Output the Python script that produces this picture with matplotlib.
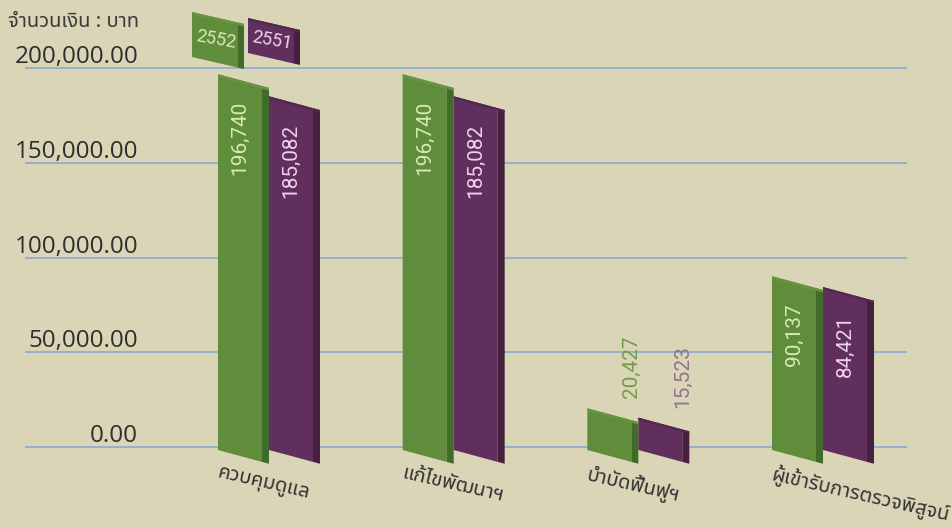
import matplotlib
matplotlib.use("Agg")
import matplotlib.pyplot as plt
from matplotlib import font_manager
from matplotlib.ft2font import FT2Font
from matplotlib.patches import Polygon

# data
categories = ["ควบคุมดูแล", "แก้ไขพัฒนาฯ", "บำบัดฟื้นฟูฯ", "ผู้เข้ารับการตรวจพิสูจน์"]
years = ["2552", "2551"]
values_2552 = [196740, 196740, 20427, 90137]
values_2551 = [185082, 185082, 15523, 84421]
yticks = [0, 50000, 100000, 150000, 200000]
ylabel = "จำนวนเงิน : บาท"

BG = "#dbd5b7"
GREEN = "#5f8d3b"
GREEN_SIDE = "#416b28"
GREEN_TOP = "#679643"
PURPLE = "#612f5e"
PURPLE_SIDE = "#45203f"
PURPLE_TOP = "#55284f"
GRID = "#8eaecf"


def find_thai_font():
    """First installed family that has Thai glyphs."""
    found = []
    for f in font_manager.fontManager.ttflist:
        try:
            if 0x0E08 in FT2Font(f.fname).get_charmap():
                found.append(f.name)
        except Exception:
            pass
    for pref in ["Noto Sans Thai", "Noto Sans Thai UI", "Loma", "Garuda", "Tahoma"]:
        if pref in found:
            return pref
    return found[0] if found else "DejaVu Sans"


THAI = [find_thai_font(), "DejaVu Sans"]

# px geometry helpers (figure is 953x527 at dpi 100)
W, H = 953, 527
PX_X = 184.67            # pixels per category step
PX_Y = 379 / 200000      # pixels per baht
front_w = 44 / PX_X
side_w = 7 / PX_X
slope = 0.27             # perspective drop, px per px
skew_front = 44 * slope / PX_Y
skew_side = 7 * slope / PX_Y
base = -3 / PX_Y
top_band = 2.5 / PX_Y


def box3d(ax, x0, y_bot, y_top, w, d, sk, skd, band, face, side, top, z=3):
    x1 = x0 + w
    ax.add_patch(Polygon([(x0, y_bot), (x1, y_bot - sk), (x1, y_top - sk), (x0, y_top)],
                         closed=True, fc=face, ec="none", zorder=z))
    ax.add_patch(Polygon([(x1, y_bot - sk), (x1 + d, y_bot - sk - skd),
                          (x1 + d, y_top - sk - skd), (x1, y_top - sk)],
                         closed=True, fc=side, ec="none", zorder=z))
    ax.add_patch(Polygon([(x0, y_top), (x1 + d, y_top - sk - skd),
                          (x1 + d, y_top - sk - skd - band), (x0, y_top - band)],
                         closed=True, fc=top, ec="none", zorder=z + 0.1))


fig = plt.figure(figsize=(W / 100, H / 100), dpi=100)
fig.patch.set_facecolor(BG)

ax = fig.add_axes([25 / W, 0, 882 / W, 1])
ax.set_facecolor("none")
xmin = -(269 - 25) / PX_X
ax.set_xlim(xmin, xmin + 882 / PX_X)
ax.set_ylim(-(527 - 447) / PX_Y, 447 / PX_Y)
ax.set_axis_off()

for t in yticks:
    ax.axhline(t, color=GRID, lw=1.3, zorder=1)
    ax.annotate(f"{t:,.2f}", xy=(138 - 25, t), xycoords=("axes pixels", "data"),
                xytext=(0, 5), textcoords="offset pixels",
                ha="right", va="baseline", fontsize=17.5,
                family=["Open Sans", "DejaVu Sans"], color="#2e2e2e")

label_font = ["Roboto", "Liberation Sans", "DejaVu Sans"]
series = [
    (values_2552, GREEN, GREEN_SIDE, GREEN_TOP, "#d6ebb2", "#729d48"),
    (values_2551, PURPLE, PURPLE_SIDE, PURPLE_TOP, "#eed3ec", "#93728d"),
]
pitch = front_w + side_w
for s, (vals, face, side, top, lab_in, lab_out) in enumerate(series):
    for i, v in enumerate(vals):
        x0 = i - pitch + s * pitch
        box3d(ax, x0, base, v, front_w, side_w, skew_front, skew_side,
              top_band, face, side, top, z=3 + s * 0.01)
        xc = x0 + front_w / 2
        if v > 40000:
            ax.annotate(f"{v:,}", xy=(xc, v), xytext=(0, -27),
                        textcoords="offset pixels", rotation=90,
                        ha="center", va="top", fontsize=15, color=lab_in,
                        family=label_font, zorder=5)
        else:
            ax.annotate(f"{v:,}", xy=(xc, v), xytext=(22, 10),
                        textcoords="offset pixels", rotation=90,
                        ha="center", va="bottom", fontsize=15, color=lab_out,
                        family=label_font, zorder=5)

# category labels, slanted under each pair
for i, c in enumerate(categories):
    ax.annotate(c, xy=(i - pitch, 0), xytext=(2, -16), textcoords="offset pixels",
                rotation=-13, rotation_mode="anchor", ha="left", va="top",
                fontsize=14.5, family=THAI, color="#333333")

# y unit label
fig.text(8 / W, 1 - 22 / H, ylabel, ha="left", va="center",
         fontsize=14.5, family=THAI, color="#3a3a3a")

# legend boxes drawn in a pixel overlay
deco = fig.add_axes([0, 0, 1, 1])
deco.set_xlim(0, W)
deco.set_ylim(0, H)
deco.set_axis_off()
deco.set_facecolor("none")
legend_boxes = [(192, H - 12, H - 57, GREEN, GREEN_SIDE, GREEN_TOP, "#d6ebb2"),
                (248, H - 18, H - 53, PURPLE, PURPLE_SIDE, PURPLE_TOP, "#eed3ec")]
for (lx, ytop, ybot, face, side, top, tc), yr in zip(legend_boxes, years):
    box3d(deco, lx, ybot, ytop, 46, 6, 46 * 0.23, 6 * 0.23, 2.5, face, side, top)
    deco.text(lx + 24, (ytop + ybot) / 2 - 5, yr, rotation=-10, ha="center",
              va="center", fontsize=13, color=tc, family=label_font, zorder=6)

fig.savefig("out.png", dpi=100, facecolor=fig.get_facecolor())
